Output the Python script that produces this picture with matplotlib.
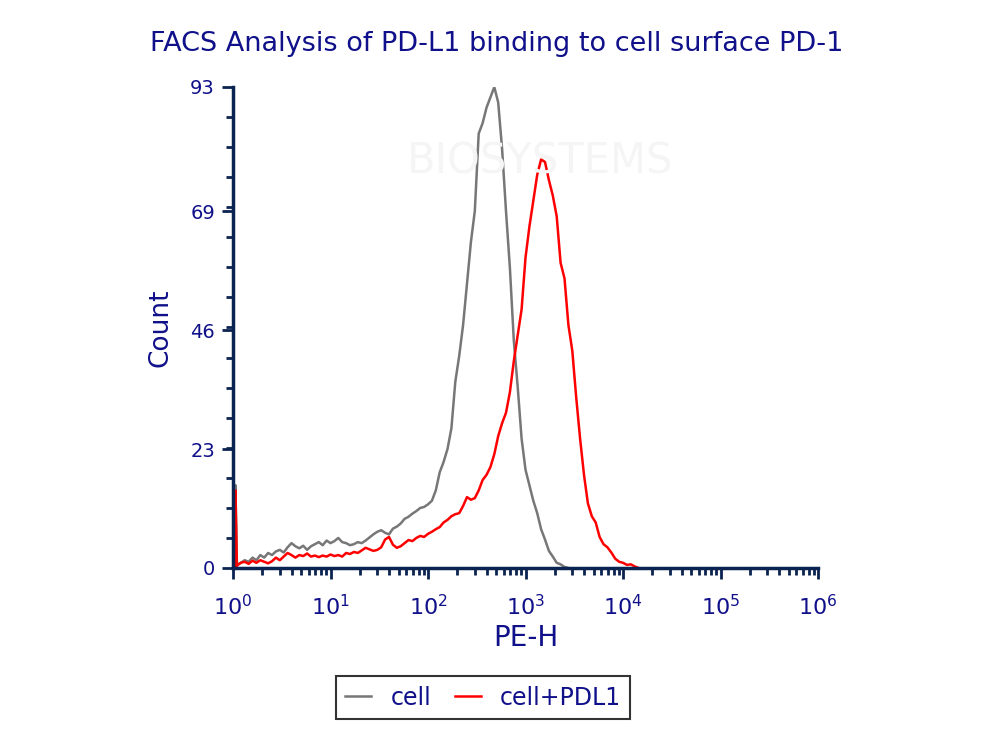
import numpy as np
import matplotlib
matplotlib.use('Agg')
import matplotlib.pyplot as plt
from matplotlib.ticker import LogLocator, LogFormatterMathtext, FixedLocator

# histogram channels, in decades of PE-H (0.04 decade per channel)
step = 0.04
cell_counts = [16, 0.5, 1, 1.5, 1.2, 2, 1.5, 2.5, 2, 2.9,
               2.5, 3.2, 3.5, 3, 4, 4.8, 4.2, 3.8, 4.3, 3.5,
               4.2, 4.6, 5, 4.4, 5.3, 4.8, 5.2, 5.8, 5, 4.8,
               4.4, 4.6, 5, 4.8, 5.3, 5.9, 6.5, 7, 7.3, 6.8,
               6.5, 7.6, 8, 8.6, 9.5, 9.9, 10.5, 11, 11.6, 11.8,
               12.3, 13, 15, 18.5, 20.5, 23, 27, 36, 41, 47,
               55, 63, 69, 84, 86, 89, 91, 93, 90, 81,
               69, 58, 44, 35, 25, 19, 16, 13, 10.6, 7.5,
               5.5, 3.3, 2.2, 1, 0.7, 0.2, 0]
pdl1_counts = [15, 0.5, 1, 1.2, 0.8, 1.4, 1, 1.5, 1.2, 0.9,
               1.3, 2, 1.5, 2.2, 2.9, 2.5, 2, 2.5, 2.3, 2.8,
               2.2, 2.4, 2.1, 2.4, 2.2, 2.6, 2.3, 2.5, 2.2, 2.9,
               2.7, 3.1, 2.9, 3.4, 3.9, 3.6, 3.3, 3.5, 4, 5.5,
               6, 4.5, 3.9, 4.2, 4.8, 5.4, 5.2, 5.8, 6.2, 6,
               6.6, 7, 7.5, 7.9, 8.8, 9.3, 10, 10.4, 10.6, 12,
               13.7, 13.2, 13.5, 15, 17, 18, 19.5, 22, 25.5, 28,
               30, 34, 40, 45, 50, 60, 66, 71, 76, 79,
               78.5, 75, 72, 68, 59, 56, 47, 42, 33, 25,
               18, 12.5, 10, 8.8, 6, 4.6, 4, 3, 1.8, 1.2,
               1, 0.6, 0.7, 0.3, 0]

y_major = [0, 23, 46, 69, 93]
y_max = 93
x_min, x_max = 1, 1e6

navy = '#10108a'
axis_col = '#0b2350'
gray = '#777777'
red = '#ff0000'

fig = plt.figure(figsize=(10, 7.36), dpi=100)
ax = fig.add_axes([0.233, 0.2283, 0.585, 0.6535])

# faint watermark
fig.text(0.54, 0.78, 'BIOSYSTEMS', fontsize=30, color='#f5f5f5', ha='center', va='center', zorder=0)

x_cell = 10 ** (np.arange(len(cell_counts)) * step)
x_pdl1 = 10 ** (np.arange(len(pdl1_counts)) * step)
# first channel = off-scale spike just right of the axis
xs = 10 ** 0.025
ax.plot([xs, xs, x_cell[1]], [0, cell_counts[0], cell_counts[1]], color=gray, lw=1.8)
ax.plot(x_cell[1:], cell_counts[1:], color=gray, lw=1.8, label='cell')
ax.plot([xs, xs, x_pdl1[1]], [0, pdl1_counts[0], pdl1_counts[1]], color=red, lw=1.8)
ax.plot(x_pdl1[1:], pdl1_counts[1:], color=red, lw=1.8, label='cell+PDL1')

ax.set_xscale('log')
ax.set_xlim(x_min, x_max)
ax.set_ylim(0, y_max)
ax.patch.set_alpha(0)

ax.xaxis.set_major_locator(LogLocator(base=10, numticks=10))
ax.xaxis.set_minor_locator(LogLocator(base=10, subs=np.arange(2, 10), numticks=20))
ax.xaxis.set_major_formatter(LogFormatterMathtext())
ax.yaxis.set_major_locator(FixedLocator(y_major))
ax.yaxis.set_minor_locator(FixedLocator([y_max * k / 16 for k in range(17)]))
ax.set_yticklabels([str(v) for v in y_major])

for s in ['top', 'right']:
    ax.spines[s].set_visible(False)
for s in ['left', 'bottom']:
    ax.spines[s].set_color(axis_col)
    ax.spines[s].set_linewidth(2.5)

ax.tick_params(which='major', length=8, width=2, color=axis_col, labelcolor=navy, pad=5)
ax.tick_params(which='minor', length=5, width=2, color=axis_col)
ax.tick_params(axis='y', labelsize=14)
ax.tick_params(axis='x', labelsize=16, pad=11)

ax.set_xlabel('PE-H', fontsize=20, color=navy, labelpad=3)
ax.set_ylabel('Count', fontsize=19, color=navy, labelpad=12)
fig.suptitle('FACS Analysis of PD-L1 binding to cell surface PD-1', x=0.497, y=0.958,
             fontsize=19.5, color=navy)

leg = fig.legend(loc='center', bbox_to_anchor=(0.483, 0.052), ncol=2, fontsize=17,
                 frameon=True, fancybox=False, edgecolor='black', handlelength=1.1,
                 columnspacing=1.0, handletextpad=0.8, borderpad=0.4)
leg.get_frame().set_linewidth(1.5)
for t in leg.get_texts():
    t.set_color(navy)

fig.savefig('out.png', dpi=100)
